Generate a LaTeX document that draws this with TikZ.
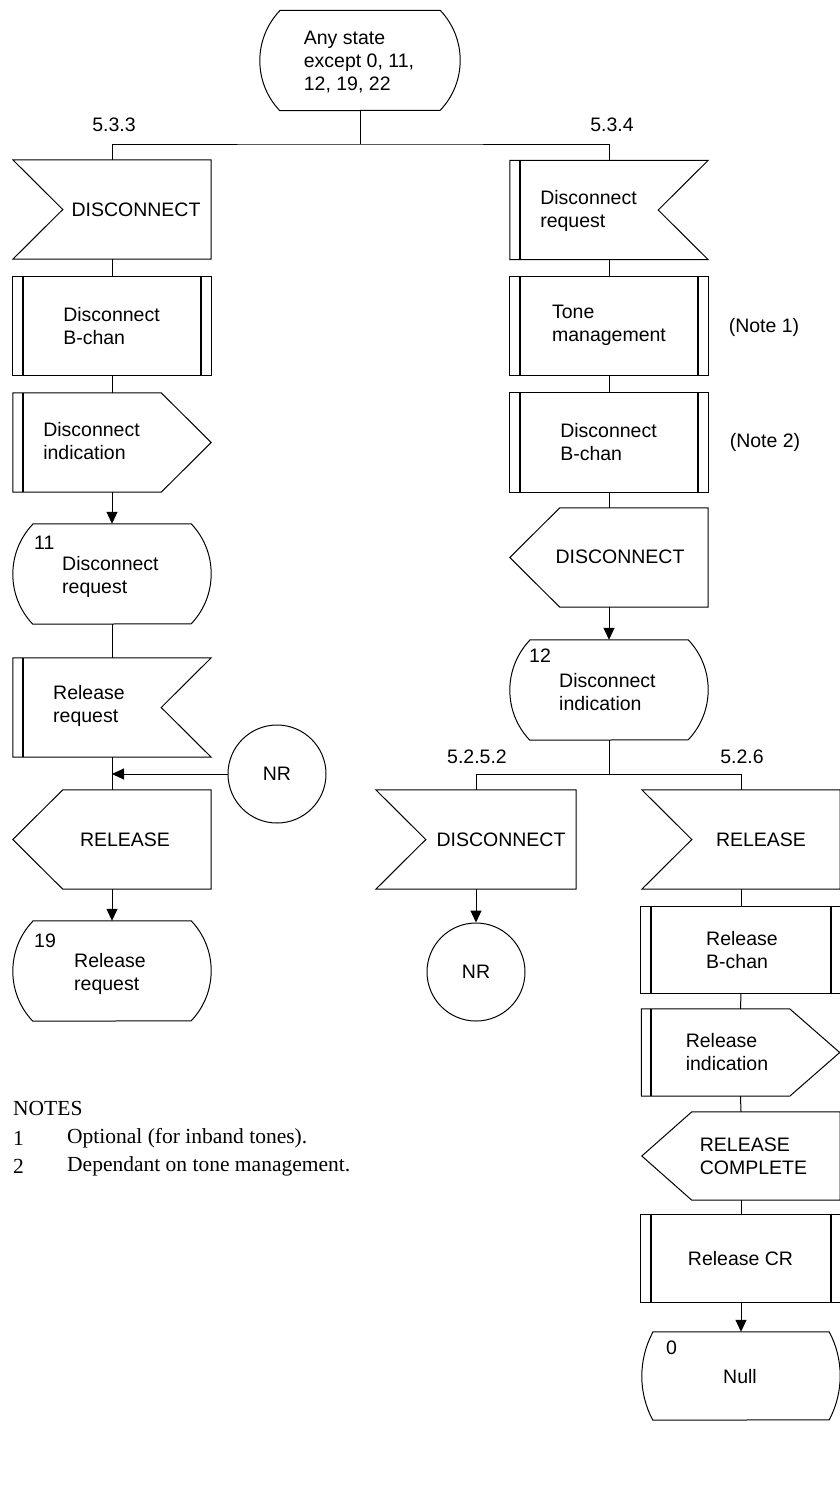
\documentclass[tikz,border=0pt]{standalone}
\usepackage{fontspec}
\setmainfont{Liberation Serif}
\newfontfamily\arialf{Liberation Sans}
\usetikzlibrary{arrows.meta}
\tikzset{
  ln/.style={line width=1pt, draw=black},
  barln/.style={line width=2pt, draw=black},
  shp/.style={minimum width=198pt, minimum height=99pt, inner sep=0pt, draw=none},
  txt/.style={font=\arialf\fontsize{19.5}{23}\selectfont, align=left, inner sep=0pt},
  notetxt/.style={font=\fontsize{21.5}{25}\selectfont, inner sep=0pt, anchor=west},
  arr/.style={ln, -{Triangle[length=12pt,width=11pt]}},
  circ/.style={circle, ln, minimum size=98pt, inner sep=0pt, font=\arialf\fontsize{19.5}{23}\selectfont}
}
% input signal, notch on the left
\newcommand\ShpInL[1]{\draw[ln] (#1.north west) -- (#1.north east) -- (#1.south east) -- (#1.south west) -- ([xshift=50pt]#1.west) -- cycle;}
% internal input, notch on the right, bar on the left
\newcommand\ShpInR[1]{\draw[ln] (#1.north west) -- (#1.north east) -- ([xshift=-50pt]#1.east) -- (#1.south east) -- (#1.south west) -- cycle;
  \draw[barln] ([xshift=10pt]#1.north west) -- ([xshift=10pt]#1.south west);}
% internal output, pointing right, bar on the left
\newcommand\ShpOutR[1]{\draw[ln] (#1.north west) -- ([xshift=-50pt]#1.north east) -- (#1.east) -- ([xshift=-50pt]#1.south east) -- (#1.south west) -- cycle;
  \draw[barln] ([xshift=10pt]#1.north west) -- ([xshift=10pt]#1.south west);}
% output signal, pointing left
\newcommand\ShpOutL[1]{\draw[ln] ([xshift=50pt]#1.north west) -- (#1.north east) -- (#1.south east) -- ([xshift=50pt]#1.south west) -- (#1.west) -- cycle;}
% procedure box
\newcommand\ShpProc[1]{\draw[ln] (#1.north west) rectangle (#1.south east);
  \draw[barln] ([xshift=10pt]#1.north west) -- ([xshift=10pt]#1.south west);
  \draw[barln] ([xshift=-10pt]#1.north east) -- ([xshift=-10pt]#1.south east);}
% state: node, inset, radius, half angle
\newcommand\ShpState[4]{\draw[ln] ([xshift=#2pt]#1.north west) -- ([xshift=-#2pt]#1.north east)
  arc[start angle=-#4, end angle=#4, radius=#3] -- ([xshift=#2pt]#1.south west)
  arc[start angle=180-#4, end angle=180+#4, radius=#3] -- cycle;}

\begin{document}
\begin{tikzpicture}[x=1pt, y=-1pt]
\useasboundingbox (0,0) rectangle (840,1489);

% top state
\node[shp, minimum width=200pt, minimum height=100pt] (S0) at (360,60.5) {};
\ShpState{S0}{20}{72.5}{43.6}
\node[txt] (S0t) at (359,62) {Any state\\except 0, 11,\\12, 19, 22};

\node[txt] (lab533) at (114,125) {5.3.3};
\node[txt] (lab534) at (612,125) {5.3.4};
\coordinate (b1) at (360,144);

% left column
\node[shp] (L1) at (112,209.5) {};
\ShpInL{L1}
\node[txt] (L1t) at (136,210) {DISCONNECT};

\node[shp] (L2) at (112,326) {};
\ShpProc{L2}
\node[txt] (L2t) at (111.5,326) {Disconnect\\B-chan};

\node[shp] (L3) at (112,442.5) {};
\ShpOutR{L3}
\node[txt] (L3t) at (91.5,441.5) {Disconnect\\indication};

\node[shp, minimum height=100pt] (L4) at (112,574) {};
\ShpState{L4}{20}{72.5}{43.6}
\node[txt, anchor=west] (L4n) at (34,543) {11};
\node[txt, anchor=west] (L4t) at (62,577) {Disconnect\\request};

\node[shp] (L5) at (112,707.5) {};
\ShpInR{L5}
\node[txt] (L5t) at (89,705.5) {Release\\request};

\node[circ] (NR1) at (277,774) {NR};
\coordinate (j1) at (112,774);

\node[shp] (L6) at (112,839.5) {};
\ShpOutL{L6}
\node[txt] (L6t) at (125,840) {RELEASE};

\node[shp, minimum height=100pt] (L7) at (112,971) {};
\ShpState{L7}{20}{72.5}{43.6}
\node[txt, anchor=west] (L7n) at (34,941) {19};
\node[txt, anchor=west] (L7t) at (74,974) {Release\\request};

% right column
\node[shp] (R1) at (609,210) {};
\ShpInR{R1}
\node[txt] (R1t) at (588.5,210.5) {Disconnect\\request};

\node[shp] (R2) at (609,326) {};
\ShpProc{R2}
\node[txt] (R2t) at (609,325) {Tone\\management};
\node[txt] (N1) at (764,327) {(Note 1)};

\node[shp] (R3) at (609,442.5) {};
\ShpProc{R3}
\node[txt] (R3t) at (608.5,442) {Disconnect\\B-chan};
\node[txt] (N2) at (765,442) {(Note 2)};

\node[shp] (R4) at (609,557.5) {};
\ShpOutL{R4}
\node[txt] (R4t) at (620,557) {DISCONNECT};

\node[shp, minimum height=100pt] (R5) at (609,690) {};
\ShpState{R5}{20}{72.5}{43.6}
\node[txt, anchor=west] (R5n) at (529,656) {12};
\node[txt, anchor=west] (R5t) at (559,692) {Disconnect\\indication};

\coordinate (b2) at (609,774);
\node[txt] (lab5252) at (477,757) {5.2.5.2};
\node[txt] (lab526) at (742,757) {5.2.6};

\node[shp, minimum width=200pt] (R6) at (476,839.5) {};
\ShpInL{R6}
\node[txt] (R6t) at (501,840) {DISCONNECT};

\node[circ] (NR2) at (476,972) {NR};

\node[shp] (R7) at (741,839.5) {};
\ShpInL{R7}
\node[txt] (R7t) at (761,840) {RELEASE};

\node[shp, minimum width=200pt, minimum height=86pt] (R8) at (741,950) {};
\ShpProc{R8}
\node[txt] (R8t) at (742,950) {Release\\B-chan};

\node[shp, minimum height=87pt] (R9) at (740.5,1052.5) {};
\ShpOutR{R9}
\node[txt] (R9t) at (727,1052.5) {Release\\indication};

\node[shp, minimum height=88pt] (R10) at (741,1156) {};
\ShpOutL{R10}
\node[txt] (R10t) at (753.5,1156) {RELEASE\\COMPLETE};

\node[shp, minimum width=200pt, minimum height=87pt] (R11) at (741,1258.5) {};
\ShpProc{R11}
\node[txt] (R11t) at (740.5,1258.5) {Release CR};

\node[shp, minimum height=88pt] (R12) at (741,1376) {};
\ShpState{R12}{11}{93.5}{28.07}
\node[txt, anchor=west] (R12n) at (666,1348) {0};
\node[txt] (R12t) at (740,1377) {Null};

% connectors
\draw[ln] (S0.south) -- (b1);
\draw[ln] (L1.north) |- (b1) -| (R1.north);
\draw[ln] (L1.south) -- (L2.north);
\draw[ln] (L2.south) -- (L3.north);
\draw[arr] (L3.south) -- (L4.north);
\draw[ln] (L4.south) -- (L5.north);
\draw[ln] (L5.south) -- (L6.north);
\draw[arr] (NR1.west) -- (j1);
\draw[arr] (L6.south) -- (L7.north);

\draw[ln] (R1.south) -- (R2.north);
\draw[ln] (R2.south) -- (R3.north);
\draw[ln] (R3.south) -- (R4.north);
\draw[arr] (R4.south) -- (R5.north);
\draw[ln] (R5.south) -- (b2);
\draw[ln] (R6.north) |- (b2) -| (R7.north);
\draw[arr] (R6.south) -- (NR2.north);
\draw[ln] (R7.south) -- (R8.north);
\draw[ln] (R8.south) -- (R9.north);
\draw[ln] (R9.south) -- (R10.north);
\draw[ln] (R10.south) -- (R11.north);
\draw[arr] (R11.south) -- (R12.north);

% notes
\node[notetxt] (notes) at (13,1108) {NOTES};
\node[notetxt] (n1a) at (13,1138) {1};
\node[notetxt] (n1b) at (67,1138) {Optional (for inband tones).};
\node[notetxt] (n2a) at (13,1166) {2};
\node[notetxt] (n2b) at (67,1166) {Dependant on tone management.};
\end{tikzpicture}
\end{document}
